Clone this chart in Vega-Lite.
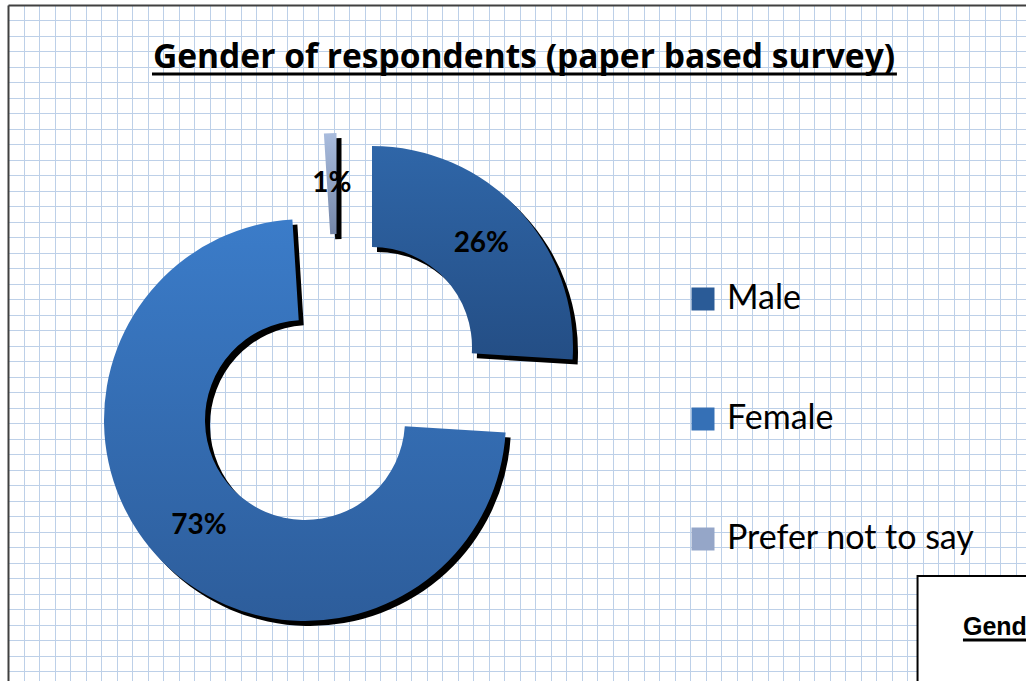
{
  "$schema": "https://vega.github.io/schema/vega-lite/v6.json",
  "width": 1018,
  "height": 676,
  "autosize": {"type": "none"},
  "padding": {"left": 8, "top": 5, "right": 0, "bottom": 0},
  "background": "white",
  "config": {"view": {"fill": "#dae4f0", "stroke": null}},
  "title": {
    "text": "Gender of respondents (paper based survey)",
    "font": "Open Sans",
    "fontSize": 33.6,
    "fontWeight": "bold",
    "color": "black",
    "anchor": "middle",
    "frame": "group",
    "baseline": "alphabetic",
    "offset": -97,
    "dx": 7
  },
  "data": {
    "values": [
      {"gender": "Male", "pct": 26, "label": "26%", "idx": 1},
      {"gender": "Female", "pct": 73, "label": "73%", "idx": 2},
      {"gender": "Prefer not to say", "pct": 1, "label": "1%", "idx": 3}
    ]
  },
  "layer": [
    {
      "data": {"values": [{}]},
      "mark": {"type": "rect", "fill": "white", "stroke": "black", "strokeWidth": 2},
      "encoding": {
        "x": {
          "datum": 58.68,
          "type": "quantitative",
          "scale": {"domain": [0, 65.677], "nice": false, "zero": false},
          "axis": {"orient": "top", "grid": true, "gridColor": "#bdd0e8", "gridWidth": 1, "domain": true, "domainColor": "#404040", "domainWidth": 2, "ticks": false, "labels": false, "title": null, "tickCount": 100,
            "values": [0,1,2,3,4,5,6,7,8,9,10,11,12,13,14,15,16,17,18,19,20,21,22,23,24,25,26,27,28,29,30,31,32,33,34,35,36,37,38,39,40,41,42,43,44,45,46,47,48,49,50,51,52,53,54,55,56,57,58,59,60,61,62,63,64,65]}
        },
        "x2": {"datum": 70},
        "y": {
          "datum": 36.84,
          "type": "quantitative",
          "scale": {"domain": [0, 43.613], "nice": false, "zero": false, "reverse": true},
          "axis": {"orient": "left", "grid": true, "gridColor": "#bdd0e8", "gridWidth": 1, "domain": true, "domainColor": "#404040", "domainWidth": 2, "ticks": false, "labels": false, "title": null, "tickCount": 100,
            "values": [0,1,2,3,4,5,6,7,8,9,10,11,12,13,14,15,16,17,18,19,20,21,22,23,24,25,26,27,28,29,30,31,32,33,34,35,36,37,38,39,40,41,42,43]}
        },
        "y2": {"datum": 50}
      }
    },
    {
      "data": {"values": [{}]},
      "mark": {"type": "rule", "color": "black", "strokeWidth": 3},
      "encoding": {
        "x": {"datum": 9.29, "type": "quantitative"},
        "x2": {"datum": 57.35},
        "y": {"datum": 4.452, "type": "quantitative"}
      }
    },
    {
      "data": {"values": [{}]},
      "mark": {"type": "text", "text": "Gender", "font": "Liberation Sans", "fontWeight": "bold", "fontSize": 25, "align": "left", "baseline": "alphabetic", "color": "black"},
      "encoding": {
        "x": {"datum": 61.61, "type": "quantitative"},
        "y": {"datum": 40.645, "type": "quantitative"}
      }
    },
    {
      "data": {"values": [{}]},
      "mark": {"type": "rule", "color": "black", "strokeWidth": 3},
      "encoding": {
        "x": {"datum": 61.61, "type": "quantitative"},
        "x2": {"datum": 70},
        "y": {"datum": 40.97, "type": "quantitative"}
      }
    },
    {
      "mark": {"type": "arc", "outerRadius": 201, "innerRadius": 100, "fill": "black", "xOffset": -140, "yOffset": 9},
      "encoding": {
        "theta": {"field": "pct", "type": "quantitative", "stack": true, "scale": {"domain": [0, 100]}},
        "order": {"field": "idx", "type": "quantitative"},
        "opacity": {"condition": {"test": "datum.gender === 'Male'", "value": 1}, "value": 0}
      }
    },
    {
      "mark": {"type": "arc", "outerRadius": 201, "innerRadius": 100, "fill": "black", "xOffset": -207, "yOffset": 82},
      "encoding": {
        "theta": {"field": "pct", "type": "quantitative", "stack": true},
        "order": {"field": "idx", "type": "quantitative"},
        "opacity": {"condition": {"test": "datum.gender === 'Female'", "value": 1}, "value": 0}
      }
    },
    {
      "mark": {"type": "arc", "outerRadius": 201, "innerRadius": 100, "fill": "black", "xOffset": -175.5, "yOffset": -4},
      "encoding": {
        "theta": {"field": "pct", "type": "quantitative", "stack": true},
        "order": {"field": "idx", "type": "quantitative"},
        "opacity": {"condition": {"test": "datum.gender === 'Prefer not to say'", "value": 1}, "value": 0}
      }
    },
    {
      "mark": {"type": "arc", "outerRadius": 201, "innerRadius": 100, "xOffset": -145, "yOffset": 4,
        "fill": {"gradient": "linear", "x1": 0, "y1": 0, "x2": 0, "y2": 1, "stops": [{"offset": 0, "color": "#2f66a8"}, {"offset": 1, "color": "#244e85"}]}},
      "encoding": {
        "theta": {"field": "pct", "type": "quantitative", "stack": true},
        "order": {"field": "idx", "type": "quantitative"},
        "opacity": {"condition": {"test": "datum.gender === 'Male'", "value": 1}, "value": 0}
      }
    },
    {
      "mark": {"type": "arc", "outerRadius": 201, "innerRadius": 100, "xOffset": -212, "yOffset": 77,
        "fill": {"gradient": "linear", "x1": 0, "y1": 0, "x2": 0, "y2": 1, "stops": [{"offset": 0, "color": "#3b7cc9"}, {"offset": 1, "color": "#2d5d9b"}]}},
      "encoding": {
        "theta": {"field": "pct", "type": "quantitative", "stack": true},
        "order": {"field": "idx", "type": "quantitative"},
        "opacity": {"condition": {"test": "datum.gender === 'Female'", "value": 1}, "value": 0}
      }
    },
    {
      "mark": {"type": "arc", "outerRadius": 201, "innerRadius": 100, "xOffset": -180.5, "yOffset": -9,
        "fill": {"gradient": "linear", "x1": 0, "y1": 0, "x2": 0, "y2": 1, "stops": [{"offset": 0, "color": "#a9bcdd"}, {"offset": 1, "color": "#7486a8"}]}},
      "encoding": {
        "theta": {"field": "pct", "type": "quantitative", "stack": true},
        "order": {"field": "idx", "type": "quantitative"},
        "opacity": {"condition": {"test": "datum.gender === 'Prefer not to say'", "value": 1}, "value": 0}
      }
    },
    {
      "mark": {"type": "text", "radius": 150, "xOffset": -145, "yOffset": 4, "font": "Lato", "fontWeight": "bold", "fontSize": 28, "fill": "black"},
      "encoding": {
        "theta": {"field": "pct", "type": "quantitative", "stack": true},
        "order": {"field": "idx", "type": "quantitative"},
        "text": {"condition": {"test": "datum.gender === 'Male'", "field": "label", "type": "nominal"}, "value": ""}
      }
    },
    {
      "mark": {"type": "text", "radius": 150, "xOffset": -212, "yOffset": 77, "font": "Lato", "fontWeight": "bold", "fontSize": 28, "fill": "black"},
      "encoding": {
        "theta": {"field": "pct", "type": "quantitative", "stack": true},
        "order": {"field": "idx", "type": "quantitative"},
        "text": {"condition": {"test": "datum.gender === 'Female'", "field": "label", "type": "nominal"}, "value": ""}
      }
    },
    {
      "mark": {"type": "text", "radius": 150, "xOffset": -180.5, "yOffset": -9, "font": "Lato", "fontWeight": "bold", "fontSize": 28, "fill": "black"},
      "encoding": {
        "theta": {"field": "pct", "type": "quantitative", "stack": true},
        "order": {"field": "idx", "type": "quantitative"},
        "text": {"condition": {"test": "datum.gender === 'Prefer not to say'", "field": "label", "type": "nominal"}, "value": ""}
      }
    },
    {
      "transform": [{"filter": "false"}],
      "mark": {"type": "arc"},
      "encoding": {
        "theta": {"field": "pct", "type": "quantitative", "stack": true},
        "fill": {
          "field": "gender",
          "type": "nominal",
          "scale": {"domain": ["Male", "Female", "Prefer not to say"], "range": ["#2a5b97", "#3570b6", "#95a6c8"]},
          "legend": {
            "orient": "none",
            "legendX": 678,
            "legendY": 277,
            "title": null,
            "padding": 0,
            "symbolType": "square",
            "symbolSize": 529,
            "symbolStrokeWidth": 0,
            "labelFont": "Lato",
            "labelFontSize": 34,
            "labelColor": "black",
            "labelOffset": 7,
            "labelLimit": 400,
            "rowPadding": 86
          }
        }
      }
    }
  ]
}
